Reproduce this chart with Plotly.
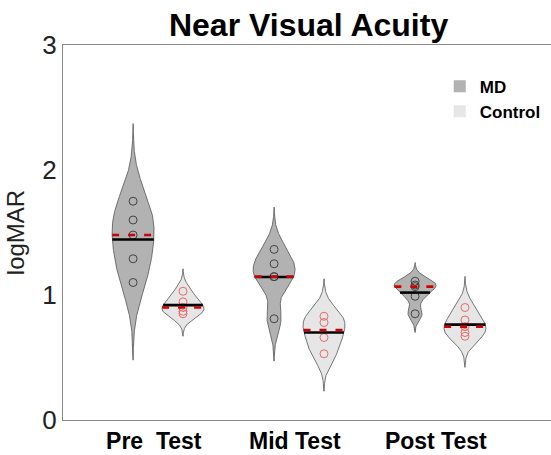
import numpy as np
import plotly.graph_objects as go

# ---- data ----
groups = ["Pre  Test", "Mid Test", "Post Test"]
series_names = ["MD", "Control"]

md_pre = [1.75, 1.60, 1.48, 1.29, 1.10]
md_mid = [1.365, 1.25, 1.147, 1.147, 0.81]
md_post = [1.11, 1.08, 1.067, 0.99, 0.85]

ctrl_pre = [1.03, 0.945, 0.90, 0.87, 0.85]
ctrl_mid = [0.83, 0.78, 0.66, 0.53]
ctrl_post = [0.90, 0.80, 0.747, 0.70, 0.67]

# kernel bandwidths (density estimate parameters)
md_bw = [0.207, 0.113, 0.05]
ctrl_bw = [0.06, 0.10, 0.083]

y_ticks = [0, 1, 2, 3]

# ---- style ----
FONT = "Liberation Sans, Arial, Helvetica, sans-serif"
MD_FILL = "#b2b2b2"
CTRL_FILL = "#e6e6e6"
OUTLINE = "#555555"
MD_PT = "#444444"
CTRL_PT = "#e86a6a"
MED_RED = "#d40000"
HALF = 0.149
OFFSET = 0.177


def kde(vals, bw, n=400):
    v = np.asarray(vals, dtype=float)
    y = np.linspace(v.min() - 3 * bw, v.max() + 3 * bw, n)
    d = np.exp(-0.5 * ((y[:, None] - v[None, :]) / bw) ** 2).sum(axis=1)
    return y, d / d.max()


fig = go.Figure()


def add_violin(center, vals, bw, fill, ptcolor):
    y, d = kde(vals, bw)
    hw = HALF * d
    xs = np.concatenate([center - hw, (center + hw)[::-1]])
    ys = np.concatenate([y, y[::-1]])
    fig.add_trace(go.Scatter(x=xs, y=ys, mode="lines", fill="toself",
                             fillcolor=fill, line=dict(color=OUTLINE, width=0.8),
                             showlegend=False, hoverinfo="skip"))
    fig.add_trace(go.Scatter(x=[center] * len(vals), y=vals, mode="markers",
                             marker=dict(symbol="circle-open", size=8,
                                         color=ptcolor, line=dict(width=1)),
                             showlegend=False))
    m = float(np.mean(vals))
    w = HALF * float(np.interp(m, y, d))
    fig.add_trace(go.Scatter(x=[center - w, center + w], y=[m, m], mode="lines",
                             line=dict(color="black", width=2.6),
                             showlegend=False, hoverinfo="skip"))
    med = float(np.median(vals))
    w = HALF * float(np.interp(med, y, d))
    fig.add_trace(go.Scatter(x=[center - w, center + w], y=[med, med], mode="lines",
                             line=dict(color=MED_RED, width=2.6, dash="7px,9px"),
                             showlegend=False, hoverinfo="skip"))


md_all = [md_pre, md_mid, md_post]
ctrl_all = [ctrl_pre, ctrl_mid, ctrl_post]
for i in range(len(groups)):
    g = i + 1
    add_violin(g - OFFSET, md_all[i], md_bw[i], MD_FILL, MD_PT)
    add_violin(g + OFFSET, ctrl_all[i], ctrl_bw[i], CTRL_FILL, CTRL_PT)

# legend entries
for name, col in zip(series_names, [MD_FILL, CTRL_FILL]):
    fig.add_trace(go.Scatter(x=[None], y=[None], mode="markers", name=name,
                             marker=dict(symbol="square", size=11, color=col)))

tick_pos = [i + 1 - 0.03 for i in range(len(groups))]
tick_text = ["<b>" + t.replace("  ", "\u00a0 ") + "</b>" for t in groups]

fig.update_layout(
    width=551, height=455,
    margin=dict(l=63, r=0, t=45, b=35),
    paper_bgcolor="white", plot_bgcolor="white",
    font=dict(family=FONT, color="black"),
    title=dict(text="<b>Near Visual Acuity</b>", x=0.56, xanchor="center",
               y=0.945, yref="container", yanchor="middle",
               font=dict(size=32, color="black", family=FONT)),
    showlegend=True,
    legend=dict(x=0.772, y=0.937, xanchor="left", yanchor="top",
                bgcolor="rgba(0,0,0,0)", font=dict(size=17, family=FONT, weight="bold"),
                itemsizing="constant", tracegroupgap=0),
)
fig.update_xaxes(range=[0.326, 3.787], tickmode="array", tickvals=tick_pos,
                 ticktext=tick_text, showline=True, linecolor="#8a8a8a", linewidth=1,
                 mirror=True, showgrid=False, zeroline=False, ticks="",
                 tickfont=dict(size=23, family=FONT, color="black"))
fig.update_yaxes(range=[0, 3], tickmode="array", tickvals=y_ticks,
                 ticktext=[str(t) for t in y_ticks], showline=True,
                 linecolor="#8a8a8a", linewidth=1, showgrid=False, zeroline=False,
                 ticks="", tickfont=dict(size=26, family=FONT, color="#222222"),
                 title=dict(text="logMAR", font=dict(size=24, family=FONT, color="#222222"),
                            standoff=10))

fig.write_html("out.html", config={"displayModeBar": False},
               post_script="document.body.style.margin='0';document.body.style.padding='0';")
